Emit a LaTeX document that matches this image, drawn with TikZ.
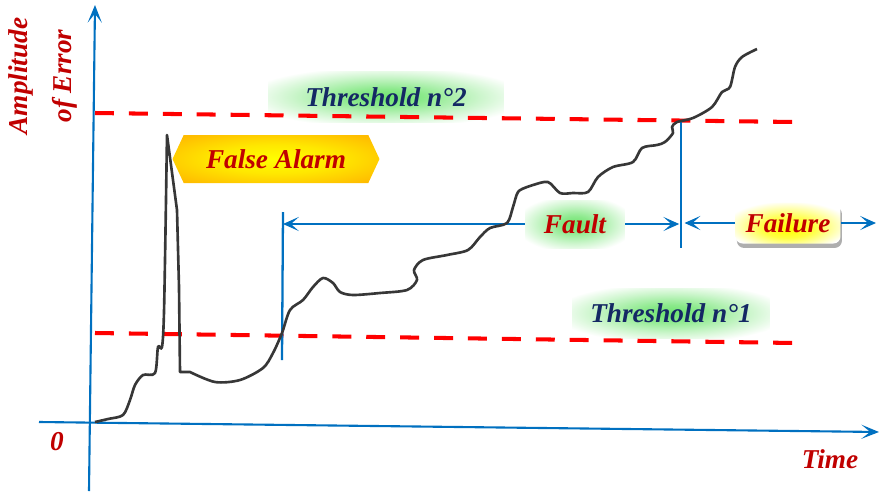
\documentclass[tikz,border=0pt]{standalone}
\usepackage{fontspec}
\setmainfont{Liberation Serif}
\usetikzlibrary{shapes.symbols, arrows.meta, positioning, shadows}

\definecolor{axisblue}{RGB}{0,112,192}
\definecolor{limitred}{RGB}{255,0,0}
\definecolor{textred}{RGB}{192,0,0}
\definecolor{textnavy}{RGB}{20,40,100}
\definecolor{curvegray}{RGB}{55,55,55}
\definecolor{glowgreen}{RGB}{110,228,110}
\definecolor{alarmorange}{RGB}{255,188,0}

\pgfdeclareradialshading{greenglow}{\pgfpoint{0bp}{0bp}}{color(0bp)=(glowgreen); color(8bp)=(glowgreen!80!white); color(20bp)=(glowgreen!35!white); color(30bp)=(white); color(50bp)=(white)}
\pgfdeclareradialshading{alarmglow}{\pgfpoint{0bp}{0bp}}{color(0bp)=(yellow); color(15bp)=(alarmorange!35!yellow); color(32bp)=(alarmorange); color(50bp)=(alarmorange)}
\pgfdeclareradialshading{failglow}{\pgfpoint{0bp}{-8bp}}{color(0bp)=(yellow); color(12bp)=(yellow!75!white); color(30bp)=(white); color(50bp)=(white)}

\newcommand{\diagfont}{\fontsize{15.5}{18}\selectfont\bfseries\itshape}

\begin{document}
\begin{tikzpicture}[x=0.02cm, y=-0.02cm,
    axis/.style={draw=axisblue, line width=1.2pt, -{Stealth[length=10pt, width=8pt, inset=5pt]}},
    marker/.style={draw=axisblue, line width=1.3pt},
    span/.style={draw=axisblue, line width=1.4pt, -{Stealth[length=9pt, width=8pt, inset=4.5pt]}},
    limit/.style={draw=limitred, line width=2.3pt, dash pattern=on 10.8pt off 8.5pt},
    redtext/.style={text=textred, font=\diagfont, inner sep=0pt},
    glowbox/.style={shading=greenglow, text=textnavy, font=\diagfont},
    curve/.style={draw=curvegray, line width=1.5pt, line join=round}]
    \useasboundingbox (0,0) rectangle (880,491);

    % Define nodes
    \coordinate (ybottom) at (89,491);
    \coordinate (ytop) at (95,5);
    \coordinate (xstart) at (39,422);
    \coordinate (xend) at (879,432);
    \coordinate (t2start) at (95,113);
    \coordinate (t2end) at (795,122);
    \coordinate (t1start) at (95,333);
    \coordinate (t1end) at (795,343);
    \coordinate (faulttop) at (283,212);
    \coordinate (faultbottom) at (282,360);
    \coordinate (failtop) at (681,120);
    \coordinate (failbottom) at (681,248);
    \coordinate (failend) at (876,223);

    \node (zero) [redtext] at (57,442) {0};
    \node (time) [redtext] at (830,459) {Time};
    \node (ylabel) [redtext, rotate=90, align=center, font=\fontsize{15.5}{25.5}\selectfont\bfseries\itshape] at (43,76) {Amplitude\\of Error};

    \node (thresh2) [glowbox, minimum width=4.72cm, minimum height=1.02cm] at (386,97) {Threshold n°2};
    \node (thresh1) [glowbox, minimum width=3.94cm, minimum height=1cm] at (671,313) {Threshold n°1};
    \node (fault) [shading=greenglow, text=textred, font=\diagfont, minimum width=2cm, minimum height=0.96cm] at (575,224) {Fault};
    \node (failure) [rounded corners=4pt, shading=failglow, text=textred, font=\diagfont, minimum width=2.1cm, minimum height=0.82cm,
        drop shadow={shadow xshift=0.8pt, shadow yshift=-2.5pt, opacity=0.45, fill=black!70}] at (788,223) {Failure};
    \node (alarm) [signal, signal to=west and east, signal pointer angle=130, shading=alarmglow, text=textred, font=\diagfont,
        minimum width=4.14cm, minimum height=0.96cm] at (276,159) {False Alarm};

    % Connect nodes
    \draw[limit] (t2start) -- (t2end);
    \draw[limit] (t1start) -- (t1end);
    \draw[axis] (ybottom) -- (ytop);
    \draw[axis] (xstart) -- (xend);
    \draw[marker] (faulttop) -- (faultbottom);
    \draw[marker] (failtop) -- (failbottom);
    \draw[span] (fault.west) -- (fault.west -| faulttop);
    \draw[span, shorten >=1pt] (fault.east) -- (fault.east -| failtop);
    \draw[span, shorten >=2pt] (failure.west) -- (failure.west -| failtop);
    \draw[span] (failure.east) -- (failend);

    % Error curve
    \draw[curve] plot[smooth, tension=0.5] coordinates {(95,422) (108,419) (123,415) (130,400) (135,385) (143,375) (155,373) (158,347) (162,347) (164,312) (166,200)}
        -- (167,135) -- (177,210) -- (179,287) -- (180,372)
        -- plot[smooth, tension=0.5] coordinates {(190,372) (215,382) (240,380) (263,368) (273,353) (282,333) (290,310) (303,300)
        (313,287) (323,278) (333,283) (340,292) (353,295) (380,293) (407,290) (417,280) (414,270) (423,260) (447,255) (468,250)
        (480,237) (490,228) (507,223) (513,207) (518,192) (527,187) (533,185) (548,182) (560,193) (573,193) (588,192) (598,177)
        (613,167) (633,162) (642,148) (657,145) (665,142) (673,133) (672,127) (677,122) (693,118) (712,107) (722,92) (730,87)
        (735,67) (742,57) (757,49)};
\end{tikzpicture}
\end{document}
